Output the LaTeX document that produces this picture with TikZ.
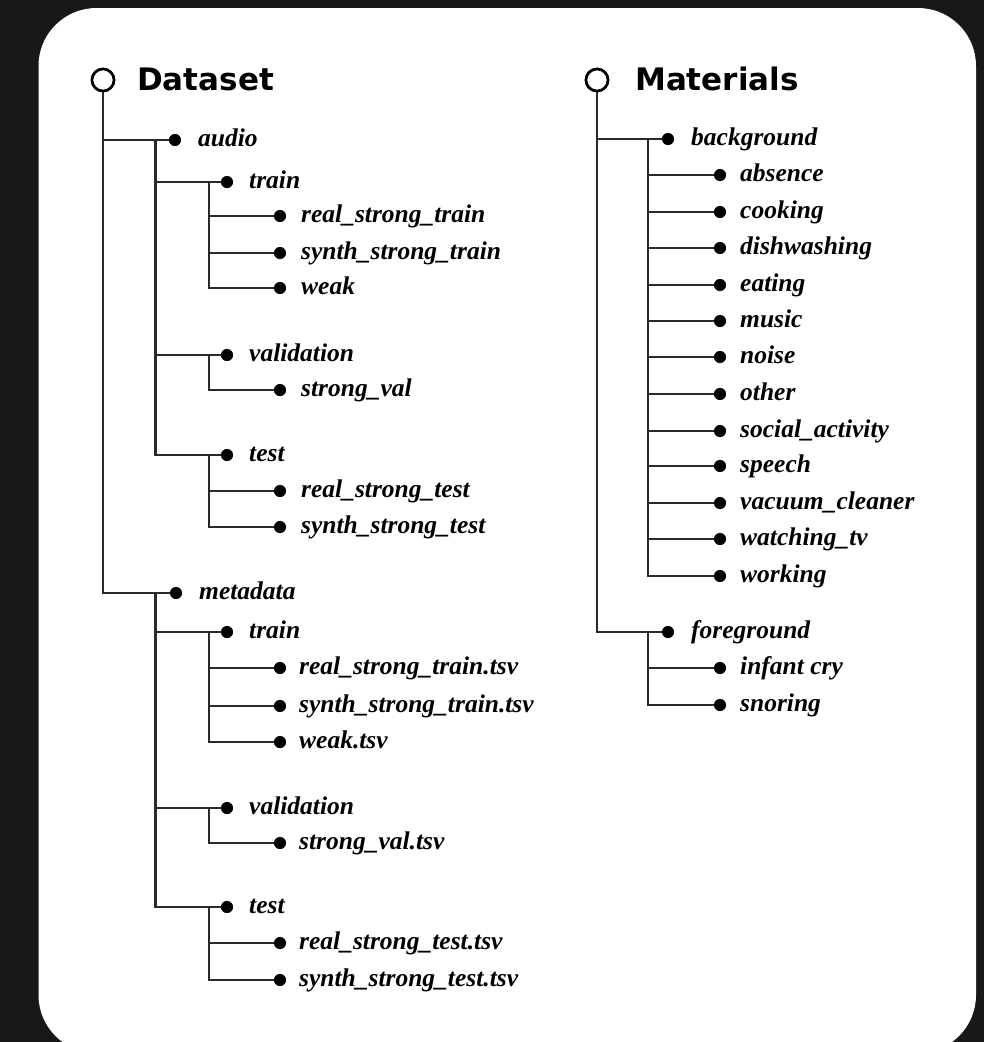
\documentclass[tikz,border=0pt]{standalone}
\usepackage{fontspec}
\newfontfamily\headfont{DejaVu Sans}
\newfontfamily\itemfont{Liberation Serif}
\definecolor{bgdark}{HTML}{181818}
\definecolor{linegray}{HTML}{2A2A2A}
\tikzset{
  treeline/.style={draw=linegray, line width=2.4pt},
  dotnode/.style={circle, fill=black, inner sep=0pt, minimum size=12pt},
  rootnode/.style={circle, draw=black, line width=2.6pt, fill=white, inner sep=0pt, minimum size=22pt},
  lbl/.style={anchor=base west, inner sep=0pt, font=\fontsize{25.5}{28}\selectfont\itemfont\bfseries\itshape, text=black},
  head/.style={anchor=base west, inner sep=0pt, font=\fontsize{31}{36}\selectfont\headfont\bfseries, text=black},
}
\newcommand\leafitem[5]{% name, x, y, text dx, label
  \node[dotnode] (#1) at (#2,#3) {};
  \node[lbl] (#1t) at ([xshift=#4pt, yshift=-6pt]#1.center) {#5};
}
\begin{document}
\begin{tikzpicture}[x=1pt,y=-1pt]
\useasboundingbox (0,0) rectangle (984,1042);
\fill[bgdark] (0,0) rectangle (984,1042);
\fill[white, rounded corners=58pt] (38.5,8) rectangle (976,1053);

% ---------- Dataset ----------
\node[rootnode] (ds) at (103,80) {};
\node[head] (dst) at (137,90) {Dataset};

\leafitem{au}{175}{140}{23}{audio}
\leafitem{md}{176}{593}{23}{metadata}

\leafitem{atr}{227}{182}{22}{train}
\leafitem{ava}{227}{355}{22}{validation}
\leafitem{ate}{227}{455}{22}{test}

\leafitem{atr1}{280}{216}{21}{real\_strong\_train}
\leafitem{atr2}{280}{253}{21}{synth\_strong\_train}
\leafitem{atr3}{280}{288}{21}{weak}
\leafitem{ava1}{280}{390}{21}{strong\_val}
\leafitem{ate1}{280}{491}{21}{real\_strong\_test}
\leafitem{ate2}{280}{527}{21}{synth\_strong\_test}

\leafitem{mtr}{227}{632}{22}{train}
\leafitem{mva}{227}{808}{22}{validation}
\leafitem{mte}{227}{907}{22}{test}

\leafitem{mtr1}{280}{668}{19}{real\_strong\_train.tsv}
\leafitem{mtr2}{280}{706}{19}{synth\_strong\_train.tsv}
\leafitem{mtr3}{280}{742}{19}{weak.tsv}
\leafitem{mva1}{280}{843}{19}{strong\_val.tsv}
\leafitem{mte1}{280}{943}{19}{real\_strong\_test.tsv}
\leafitem{mte2}{280}{980}{19}{synth\_strong\_test.tsv}

\coordinate (auJ) at (155.5,140);
\coordinate (mdJ) at (155.5,593);
\coordinate (atrJ) at (209,182);
\coordinate (avaJ) at (209,355);
\coordinate (ateJ) at (209,455);
\coordinate (mtrJ) at (209,632);
\coordinate (mvaJ) at (209,808);
\coordinate (mteJ) at (209,907);

\draw[treeline] (ds.south) |- (au.center);
\draw[treeline] (ds.south) |- (md.center);
\foreach \c in {atr,ava,ate} \draw[treeline] (auJ) |- (\c.center);
\foreach \c in {mtr,mva,mte} \draw[treeline] (mdJ) |- (\c.center);
\foreach \c in {atr1,atr2,atr3} \draw[treeline] (atrJ) |- (\c.center);
\draw[treeline] (avaJ) |- (ava1.center);
\foreach \c in {ate1,ate2} \draw[treeline] (ateJ) |- (\c.center);
\foreach \c in {mtr1,mtr2,mtr3} \draw[treeline] (mtrJ) |- (\c.center);
\draw[treeline] (mvaJ) |- (mva1.center);
\foreach \c in {mte1,mte2} \draw[treeline] (mteJ) |- (\c.center);

% ---------- Materials ----------
\node[rootnode] (mt) at (597,80) {};
\node[head] (mtt) at (635,90) {Materials};

\leafitem{bg}{668}{139}{23}{background}
\leafitem{fg}{668}{632}{23}{foreground}

\leafitem{b1}{720}{175}{20}{absence}
\leafitem{b2}{720}{212}{20}{cooking}
\leafitem{b3}{720}{248}{20}{dishwashing}
\leafitem{b4}{720}{285}{20}{eating}
\leafitem{b5}{720}{321}{20}{music}
\leafitem{b6}{720}{357}{20}{noise}
\leafitem{b7}{720}{394}{20}{other}
\leafitem{b8}{720}{431}{20}{social\_activity}
\leafitem{b9}{720}{466}{20}{speech}
\leafitem{b10}{720}{503}{20}{vacuum\_cleaner}
\leafitem{b11}{720}{539}{20}{watching\_tv}
\leafitem{b12}{720}{576}{20}{working}
\leafitem{f1}{720}{668}{20}{infant cry}
\leafitem{f2}{720}{705}{20}{snoring}

\coordinate (bgJ) at (648,139);
\coordinate (fgJ) at (648,632);

\draw[treeline] (mt.south) |- (bg.center);
\draw[treeline] (mt.south) |- (fg.center);
\foreach \c in {b1,b2,b3,b4,b5,b6,b7,b8,b9,b10,b11,b12} \draw[treeline] (bgJ) |- (\c.center);
\foreach \c in {f1,f2} \draw[treeline] (fgJ) |- (\c.center);

% redraw dots and root circles on top of lines
\foreach \c in {au,md,atr,ava,ate,atr1,atr2,atr3,ava1,ate1,ate2,mtr,mva,mte,mtr1,mtr2,mtr3,mva1,mte1,mte2,bg,fg,b1,b2,b3,b4,b5,b6,b7,b8,b9,b10,b11,b12,f1,f2}
  \fill[black] (\c.center) circle (5.8pt);
\draw[black, line width=2.6pt, fill=white] (ds.center) circle (11pt);
\draw[black, line width=2.6pt, fill=white] (mt.center) circle (11pt);
\end{tikzpicture}
\end{document}
